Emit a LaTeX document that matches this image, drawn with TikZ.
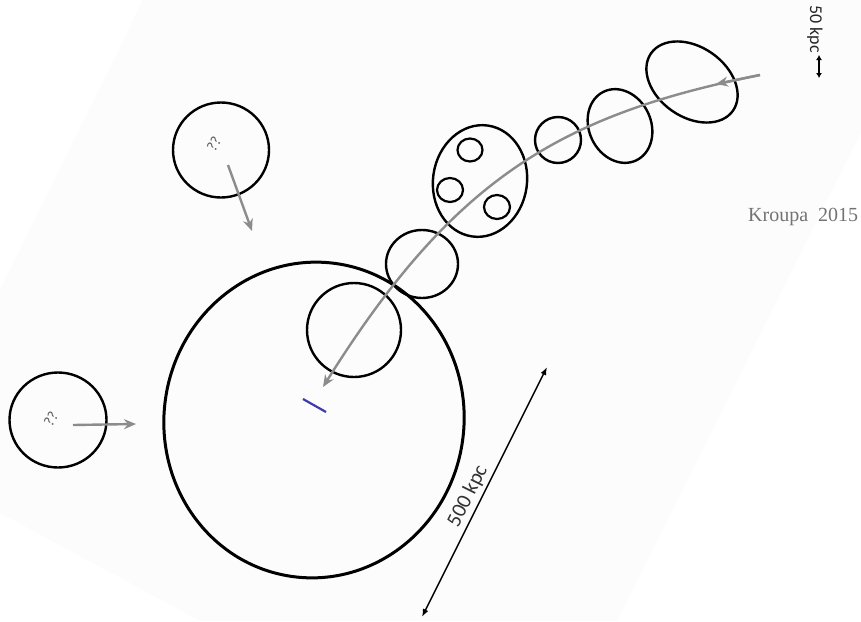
\documentclass[tikz,border=0pt]{standalone}
\usepackage{fontspec}
\setmainfont{Liberation Serif}
\newfontfamily\calib{Carlito}
\usetikzlibrary{shapes.geometric,arrows.meta}
\begin{document}
\begin{tikzpicture}[x=1pt,y=-1pt,
  blob/.style={draw, line width=2.4pt, ellipse, inner sep=0pt, outer sep=0pt},
  flow/.style={draw=black!45, line width=2.4pt, -{Stealth[length=12pt,width=10pt]}},
  scalebar/.style={line width=1.4pt, {Latex[length=8pt,width=6pt]}-{Latex[length=8pt,width=6pt]}},
  qtext/.style={text=black!65, font=\calib\fontsize{15}{17}\selectfont, rotate=60, inner sep=0pt},
]
\useasboundingbox (0,0) rectangle (861,621);
\fill[black!1] (143,0) -- (861,0) -- (861,132) -- (617,621) -- (200,621) -- (0,513) -- (0,290) -- cycle;

% main halo and substructures
\node[blob, line width=3pt, minimum width=300, minimum height=316, rotate=-8] (halo) at (314,420) {};
\node[blob, minimum width=94, minimum height=94] (inner) at (354,330) {};
\node[blob, minimum width=72, minimum height=68] (cross) at (422,264) {};
\node[blob, minimum width=94, minimum height=112, rotate=-8] (group) at (480,181) {};
\node[blob, line width=2.2pt, minimum width=25, minimum height=23] (g1) at (470,150) {};
\node[blob, line width=2.2pt, minimum width=26, minimum height=24] (g2) at (450,190) {};
\node[blob, line width=2.2pt, minimum width=26, minimum height=24] (g3) at (497,207) {};
\node[blob, minimum width=46, minimum height=46] (s1) at (558,140) {};
\node[blob, minimum width=62, minimum height=76, rotate=25] (s2) at (620,126) {};
\node[blob, minimum width=100, minimum height=70, rotate=-35] (s3) at (692,82) {};

% unknown infallers
\node[blob, minimum width=96, minimum height=95] (q1) at (221,150) {};
\node[qtext] (q1t) at (214,144) {??};
\node[blob, minimum width=97, minimum height=95] (q2) at (58,420) {};
\node[qtext] (q2t) at (51,419) {??};

\coordinate (q1a) at (228,165);
\coordinate (q1b) at (252,231);
\draw[flow] (q1a) -- (q1b);
\coordinate (q2a) at (73,425);
\coordinate (q2b) at (136,424);
\draw[flow] (q2a) -- (q2b);

% infall trajectory
\coordinate (c0) at (760,75);
\coordinate (ca) at (560,115);
\coordinate (cb) at (453,179);
\coordinate (c7) at (323,387);
\coordinate (c0h) at (716,84);
\draw[flow] (c0) .. controls (ca) and (cb) .. (c7);
\draw[flow] (c0) -- (c0h);

% blue mark
\coordinate (b1) at (303,399);
\coordinate (b2) at (326,412);
\draw[line width=2.2pt, draw={rgb,255:red,60;green,60;blue,170}] (b1) -- (b2);

% 500 kpc scale
\coordinate (k1) at (547,367);
\coordinate (k2) at (422,617);
\draw[scalebar] (k2) -- (k1) node[pos=0.46, sloped, above=0pt, text=black!80, font=\calib\fontsize{21}{24}\selectfont] (kl) {500 kpc};

% 50 kpc scale
\node[rotate=-90, text=black!85, font=\calib\fontsize{18}{20}\selectfont, inner sep=0pt] (fifty) at (815,29) {50 kpc};
\coordinate (f1) at (819,55);
\coordinate (f2) at (819,78);
\draw[line width=1.4pt, {Latex[length=5pt,width=6pt]}-{Latex[length=5pt,width=6pt]}] (f1) -- (f2);

% citation
\node[anchor=west, text=black!55, font=\fontsize{20}{23}\selectfont, inner sep=0pt] (cite) at (748,217) {Kroupa\ \ 2015};
\end{tikzpicture}
\end{document}
